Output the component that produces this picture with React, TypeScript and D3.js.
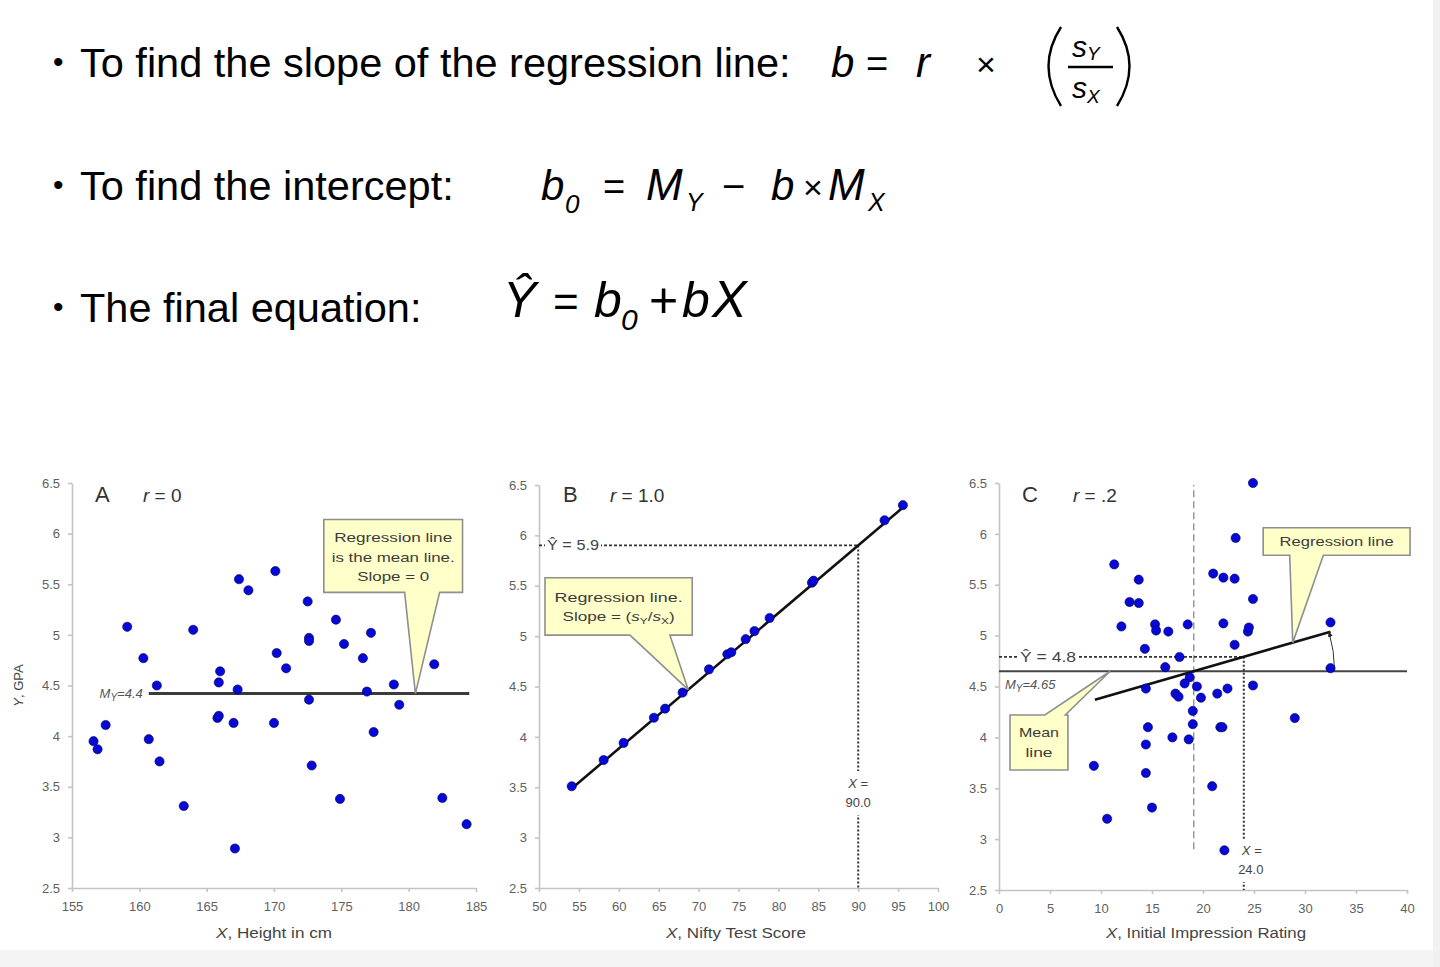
import React, { useEffect, useRef } from "react";
import * as d3 from "d3";

const FONT = "'Liberation Sans', Arial, Helvetica, sans-serif";

// ---- panel A: height vs GPA (r = 0) ----
const heightCm = [156.6, 156.9, 157.5, 159.1, 160.3, 160.7, 161.3, 161.5, 163.3, 164.0, 165.8, 165.9, 165.9, 166.0, 167.0, 167.1, 167.3, 167.4, 168.1, 170.0, 170.1, 170.2, 170.9, 172.5, 172.6, 172.6, 172.6, 172.8, 174.6, 174.9, 175.2, 176.6, 176.9, 177.2, 177.4, 178.9, 179.3, 181.9, 182.5, 184.3];
const gpaA = [3.95, 3.87, 4.11, 5.08, 4.77, 3.97, 4.5, 3.75, 3.31, 5.05, 4.18, 4.2, 4.53, 4.64, 4.13, 2.89, 4.46, 5.55, 5.44, 4.13, 5.63, 4.82, 4.67, 5.33, 4.97, 4.94, 4.36, 3.71, 5.15, 3.38, 4.91, 4.77, 4.44, 5.02, 4.04, 4.51, 4.31, 4.71, 3.39, 3.13];
const meanA = 4.42;
const lineRangeA = [160.7, 184.5];
const xTicksA = [155, 160, 165, 170, 175, 180, 185];

// ---- panel B: nifty test score vs GPA (r = 1.0) ----
const nifty = [54.1, 58.1, 60.6, 64.4, 65.8, 68.0, 71.3, 73.6, 74.1, 75.9, 77.0, 78.9, 84.2, 84.4, 93.3, 95.6];
const gpaB = [3.51, 3.77, 3.94, 4.19, 4.28, 4.44, 4.67, 4.82, 4.84, 4.97, 5.05, 5.18, 5.53, 5.55, 6.15, 6.3];
const slopeB = 0.0672;
const predXB = 90;
const predYB = 5.9;
const lineRangeB = [54.1, 95.6];
const xTicksB = [50, 55, 60, 65, 70, 75, 80, 85, 90, 95, 100];

// ---- panel C: initial impression vs GPA (r = .2) ----
const impression = [24.9, 23.2, 11.3, 13.7, 12.8, 13.7, 12.0, 15.3, 15.4, 16.6, 18.5, 21.0, 22.0, 23.1, 24.9, 22.0, 24.4, 24.5, 23.1, 14.3, 17.7, 16.3, 32.5, 32.5, 18.7, 18.2, 19.4, 14.4, 24.9, 17.3, 17.6, 19.8, 21.4, 22.4, 29.0, 19.0, 14.6, 19.0, 21.7, 21.9, 17.0, 18.6, 14.4, 9.3, 14.4, 20.9, 15.0, 10.6, 22.1];
const gpaC = [6.5, 5.96, 5.7, 5.55, 5.33, 5.32, 5.09, 5.11, 5.05, 5.04, 5.11, 5.61, 5.57, 5.56, 5.36, 5.12, 5.04, 5.08, 4.91, 4.87, 4.79, 4.69, 5.13, 4.68, 4.59, 4.53, 4.5, 4.48, 4.51, 4.43, 4.4, 4.39, 4.43, 4.48, 4.19, 4.26, 4.1, 4.13, 4.1, 4.1, 4.0, 3.98, 3.93, 3.72, 3.65, 3.52, 3.31, 3.2, 2.89];
const meanXC = 19.1;
const meanYC = 4.65;
const slopeC = 0.029;
const predXC = 24;
const predYC = 4.8;
const lineRangeC = [9.4, 32.5];
const meanXRangeC = [2.9, 6.48];
const xTicksC = [0, 5, 10, 15, 20, 25, 30, 35, 40];

const yTicks = [2.5, 3, 3.5, 4, 4.5, 5, 5.5, 6, 6.5];

const xA = d3.scaleLinear().domain([155, 185]).range([72, 476]);
const yA = d3.scaleLinear().domain([2.5, 6.5]).range([888, 483]);
const xB = d3.scaleLinear().domain([50, 100]).range([539, 938]);
const yB = d3.scaleLinear().domain([2.5, 6.5]).range([888, 485]);
const xC = d3.scaleLinear().domain([0, 40]).range([999, 1407]);
const yC = d3.scaleLinear().domain([2.5, 6.5]).range([890, 483]);

const lineB = (x: number) => predYB + slopeB * (x - predXB);
const lineC = (x: number) => meanYC + slopeC * (x - meanXC);

const DOT = "#0707d6";
const NOTE_FILL = "#ffffc9";
const NOTE_STROKE = "#8f8f8f";

function styleAxis(g: any) {
  g.attr("font-family", FONT).attr("font-size", 13);
  g.select(".domain").attr("stroke", "#c4c4c4").attr("stroke-width", 1.6);
  g.selectAll(".tick line").attr("stroke", "#c4c4c4").attr("stroke-width", 1.6);
  g.selectAll(".tick text").attr("fill", "#5f5f5f");
}

function Axes({ x, y, xTicks }: any) {
  const left = useRef<SVGGElement>(null);
  const bottom = useRef<SVGGElement>(null);
  useEffect(() => {
    const gl = d3.select(left.current);
    gl.call(
      d3.axisLeft(y).tickValues(yTicks).tickFormat(d3.format("") as any)
        .tickSize(4).tickPadding(8).tickSizeOuter(0) as any
    );
    styleAxis(gl);
    const gb = d3.select(bottom.current);
    gb.call(
      d3.axisBottom(x).tickValues(xTicks).tickFormat(d3.format("") as any)
        .tickSize(4).tickPadding(10).tickSizeOuter(0) as any
    );
    styleAxis(gb);
  }, [x, y, xTicks]);
  return (
    <g>
      <g ref={left} transform={`translate(${x.range()[0]},0)`} />
      <g ref={bottom} transform={`translate(0,${y.range()[0]})`} />
    </g>
  );
}

// yellow callout box with a triangular pointer
function Callout({ x, y, box, base, tip, top, lines }: any) {
  const x0 = x(box[0]), x1 = x(box[1]), y0 = y(box[2]), y1 = y(box[3]);
  const bl = x(base[0]), br = x(base[1]);
  const tx = x(tip[0]), ty = y(tip[1]);
  const d = top
    ? `M${x0},${y0}L${bl},${y0}L${tx},${ty}L${br},${y0}L${x1},${y0}L${x1},${y1}L${x0},${y1}Z`
    : `M${x0},${y0}L${x1},${y0}L${x1},${y1}L${br},${y1}L${tx},${ty}L${bl},${y1}L${x0},${y1}Z`;
  const cx = (x0 + x1) / 2;
  return (
    <g>
      <path d={d} fill={NOTE_FILL} stroke={NOTE_STROKE} strokeWidth={1.6} strokeLinejoin="miter" />
      {lines.map((l: any, i: number) => (
        <text key={i} x={cx} y={y0 + l.dy} textAnchor="middle" fontSize={13} fill="#3c3c3c"
          textLength={l.w} lengthAdjust="spacingAndGlyphs">
          {l.t}
        </text>
      ))}
    </g>
  );
}

function Dots({ xs, ys, x, y }: any) {
  return (
    <g>
      {xs.map((v: number, i: number) => (
        <circle key={i} cx={x(v)} cy={y(ys[i])} r={4.6} fill={DOT} stroke="#00005a" strokeWidth={0.6} />
      ))}
    </g>
  );
}

function Title({ letter, rtext, lx, rx }: any) {
  return (
    <g fill="#333">
      <text x={lx} y={502} fontSize={22}>{letter}</text>
      <text x={rx} y={502} fontSize={19}>
        <tspan fontStyle="italic">r</tspan> = {rtext}
      </text>
    </g>
  );
}

function XTitle({ cx, rest, w }: any) {
  return (
    <text x={cx} y={938} textAnchor="middle" fontSize={14} fill="#444" textLength={w} lengthAdjust="spacingAndGlyphs">
      <tspan fontStyle="italic">X</tspan>, {rest}
    </text>
  );
}

function Formulas() {
  return (
    <g fontFamily={FONT} fill="#000">
      {/* line 1 */}
      <text x={53} y={72} fontSize={30}>•</text>
      <text x={80} y={77} fontSize={41.5}>To find the slope of the regression line:</text>
      <text x={831} y={77} fontSize={42} fontStyle="italic">b</text>
      <text x={866} y={77} fontSize={38}>=</text>
      <text x={916} y={77} fontSize={42} fontStyle="italic">r</text>
      <text x={976} y={76} fontSize={34}>×</text>
      <path d="M1061,27Q1036,66 1061,106" fill="none" stroke="#000" strokeWidth={2.4} />
      <path d="M1117,27Q1142,66 1117,106" fill="none" stroke="#000" strokeWidth={2.4} />
      <text x={1072} y={57} fontSize={30} fontStyle="italic">s<tspan fontSize={19} dy={3}>Y</tspan></text>
      <line x1={1068} x2={1113} y1={67} y2={67} stroke="#000" strokeWidth={2.6} />
      <text x={1072} y={98} fontSize={30} fontStyle="italic">s<tspan fontSize={19} dy={5}>X</tspan></text>

      {/* line 2 */}
      <text x={53} y={195} fontSize={30}>•</text>
      <text x={80} y={200} fontSize={41.5}>To find the intercept:</text>
      <text x={541} y={200} fontSize={42} fontStyle="italic">b</text>
      <text x={565} y={213} fontSize={26} fontStyle="italic">0</text>
      <text x={603} y={200} fontSize={38}>=</text>
      <text x={646} y={200} fontSize={44} fontStyle="italic">M</text>
      <text x={686} y={211} fontSize={25} fontStyle="italic">Y</text>
      <text x={722} y={200} fontSize={40}>−</text>
      <text x={771} y={200} fontSize={42} fontStyle="italic">b</text>
      <text x={803} y={199} fontSize={34}>×</text>
      <text x={828} y={200} fontSize={44} fontStyle="italic">M</text>
      <text x={868} y={211} fontSize={25} fontStyle="italic">X</text>

      {/* line 3 */}
      <text x={53} y={317} fontSize={30}>•</text>
      <text x={80} y={322} fontSize={41.5}>The final equation:</text>
      <text x={503} y={317} fontSize={50} fontStyle="italic">Ŷ</text>
      <text x={553} y={317} fontSize={44}>=</text>
      <text x={594} y={317} fontSize={50} fontStyle="italic">b</text>
      <text x={621} y={330} fontSize={30} fontStyle="italic">0</text>
      <text x={649} y={317} fontSize={50}>+</text>
      <text x={682} y={317} fontSize={50} fontStyle="italic">b</text>
      <text x={712} y={317} fontSize={52} fontStyle="italic">X</text>
    </g>
  );
}

function PanelA() {
  const my = yA(meanA);
  return (
    <g>
      <Axes x={xA} y={yA} xTicks={xTicksA} />
      <line x1={xA(lineRangeA[0])} x2={xA(lineRangeA[1])} y1={my} y2={my} stroke="#3b3b3b" strokeWidth={3} />
      <text x={xA(lineRangeA[0]) - 6} y={my + 4} textAnchor="end" fontSize={13} fontStyle="italic" fill="#555">
        M<tspan fontSize={10} dy={3}>Y</tspan><tspan dy={-3}>=4.4</tspan>
      </text>
      <Dots xs={heightCm} ys={gpaA} x={xA} y={yA} />
      <Callout x={xA} y={yA} box={[173.7, 184.0, 6.14, 5.42]} base={[179.7, 182.3]} tip={[180.5, meanA]}
        lines={[
          { t: "Regression line", dy: 23, w: 118 },
          { t: "is the mean line.", dy: 43, w: 123 },
          { t: "Slope = 0", dy: 62, w: 72 },
        ]} />
      <Title letter="A" rtext="0" lx={95} rx={143} />
      <text transform={`translate(23,${(yA(2.5) + yA(6.5)) / 2}) rotate(-90)`} textAnchor="middle" fontSize={13} fill="#444">
        <tspan fontStyle="italic">Y</tspan>, GPA
      </text>
      <XTitle cx={274} rest="Height in cm" w={116} />
    </g>
  );
}

function PanelB() {
  const line = d3.line<number>().x((d) => xB(d)).y((d) => yB(lineB(d)));
  const py = yB(predYB);
  const px = xB(predXB);
  return (
    <g>
      <Axes x={xB} y={yB} xTicks={xTicksB} />
      <line x1={xB(50)} x2={px} y1={py} y2={py} stroke="#333" strokeWidth={1.8} strokeDasharray="3,2" />
      <line x1={px} x2={px} y1={py} y2={yB(2.5)} stroke="#333" strokeWidth={2} strokeDasharray="2,2" />
      <rect x={xB(50) + 6} y={py - 8} width={56} height={16} fill="#fff" />
      <text x={xB(50) + 8} y={py + 5} fontSize={14} fill="#444" textLength={52} lengthAdjust="spacingAndGlyphs">Ŷ = 5.9</text>
      <rect x={px - 16} y={771} width={32} height={44} fill="#fff" />
      <text x={px} y={788} textAnchor="middle" fontSize={13} fill="#444"><tspan fontStyle="italic">X</tspan> =</text>
      <text x={px} y={807} textAnchor="middle" fontSize={13} fill="#444">90.0</text>
      <path d={line(lineRangeB) || ""} stroke="#111" strokeWidth={2.6} fill="none" />
      <Dots xs={nifty} ys={gpaB} x={xB} y={yB} />
      <Callout x={xB} y={yB} box={[50.75, 69.2, 5.58, 5.01]} base={[61.4, 66.4]} tip={[68.7, lineB(68.7)]}
        lines={[
          { t: "Regression line.", dy: 24, w: 128 },
          { t: <>Slope = (<tspan fontStyle="italic">s</tspan><tspan fontSize={9} dy={3}>Y</tspan><tspan dy={-3}>/</tspan><tspan fontStyle="italic">s</tspan><tspan fontSize={9} dy={3}>X</tspan><tspan dy={-3}>)</tspan></>, dy: 43, w: 112 },
        ]} />
      <Title letter="B" rtext="1.0" lx={563} rx={610} />
      <XTitle cx={736} rest="Nifty Test Score" w={140} />
    </g>
  );
}

function PanelC() {
  const line = d3.line<number>().x((d) => xC(d)).y((d) => yC(lineC(d)));
  const my = yC(meanYC);
  const mx = xC(meanXC);
  const py = yC(lineC(predXC));
  const px = xC(predXC);
  // angle arc between mean line and regression line
  const R = xC(32.9) - mx;
  const endX = xC(lineRangeC[1]);
  const endY = yC(lineC(lineRangeC[1]));
  const th = Math.atan2(my - endY, endX - mx);
  const arc = `M${mx + R},${my}A${R},${R} 0 0 0 ${mx + R * Math.cos(th)},${my - R * Math.sin(th)}`;
  return (
    <g>
      <Axes x={xC} y={yC} xTicks={xTicksC} />
      <line x1={mx} x2={mx} y1={yC(meanXRangeC[0])} y2={yC(meanXRangeC[1])} stroke="#666" strokeWidth={1} strokeDasharray="7,4" />
      <line x1={xC(0)} x2={xC(40)} y1={my} y2={my} stroke="#444" strokeWidth={2} />
      <line x1={xC(0)} x2={px} y1={py} y2={py} stroke="#333" strokeWidth={1.8} strokeDasharray="3,2" />
      <line x1={px} x2={px} y1={py} y2={yC(2.5)} stroke="#333" strokeWidth={2} strokeDasharray="2,2" />
      <rect x={xC(0) + 18} y={py - 8} width={62} height={15} fill="#fff" />
      <text x={xC(0) + 21} y={py + 5} fontSize={14} fill="#444" textLength={56} lengthAdjust="spacingAndGlyphs">Ŷ = {predYC}</text>
      <rect x={px - 8} y={840} width={34} height={42} fill="#fff" />
      <text x={px + 8} y={855} textAnchor="middle" fontSize={13} fill="#444"><tspan fontStyle="italic">X</tspan> =</text>
      <text x={px + 7} y={874} textAnchor="middle" fontSize={13} fill="#444">24.0</text>
      <path d={line(lineRangeC) || ""} stroke="#111" strokeWidth={2.6} fill="none" />
      <path d={arc} fill="none" stroke="#333" strokeWidth={1} markerEnd="url(#arrowC)" />
      <text x={xC(0) + 6} y={my + 18} fontSize={13} fontStyle="italic" fill="#555">
        M<tspan fontSize={10} dy={3}>Y</tspan><tspan dy={-3}>=4.65</tspan>
      </text>
      <Dots xs={impression} ys={gpaC} x={xC} y={yC} />
      <Callout x={xC} y={yC} box={[25.9, 40.3, 6.06, 5.79]} base={[28.5, 31.8]} tip={[28.8, lineC(28.8)]}
        lines={[{ t: "Regression line", dy: 18, w: 114 }]} />
      <Callout x={xC} y={yC} box={[1.08, 6.76, 4.22, 3.68]} base={[4.5, 6.5]} tip={[10.9, meanYC]} top
        lines={[
          { t: "Mean", dy: 22, w: 40 },
          { t: "line", dy: 42, w: 27 },
        ]} />
      <Title letter="C" rtext=".2" lx={1022} rx={1073} />
      <XTitle cx={1206} rest="Initial Impression Rating" w={200} />
    </g>
  );
}

export default function App() {
  return (
    <svg width={1440} height={967} style={{ position: "absolute", left: 0, top: 0, background: "#fff" }}
      fontFamily={FONT}>
      <defs>
        <marker id="arrowC" viewBox="0 0 10 10" refX={8} refY={5} markerWidth={6} markerHeight={6} orient="auto">
          <path d="M0,1L10,5L0,9Z" fill="#222" />
        </marker>
      </defs>
      <rect x={0} y={0} width={1440} height={967} fill="#fff" />
      <rect x={0} y={950} width={1440} height={17} fill="#f4f4f4" />
      <rect x={1433} y={0} width={7} height={967} fill="#f1f1f1" />
      <Formulas />
      <PanelA />
      <PanelB />
      <PanelC />
    </svg>
  );
}
